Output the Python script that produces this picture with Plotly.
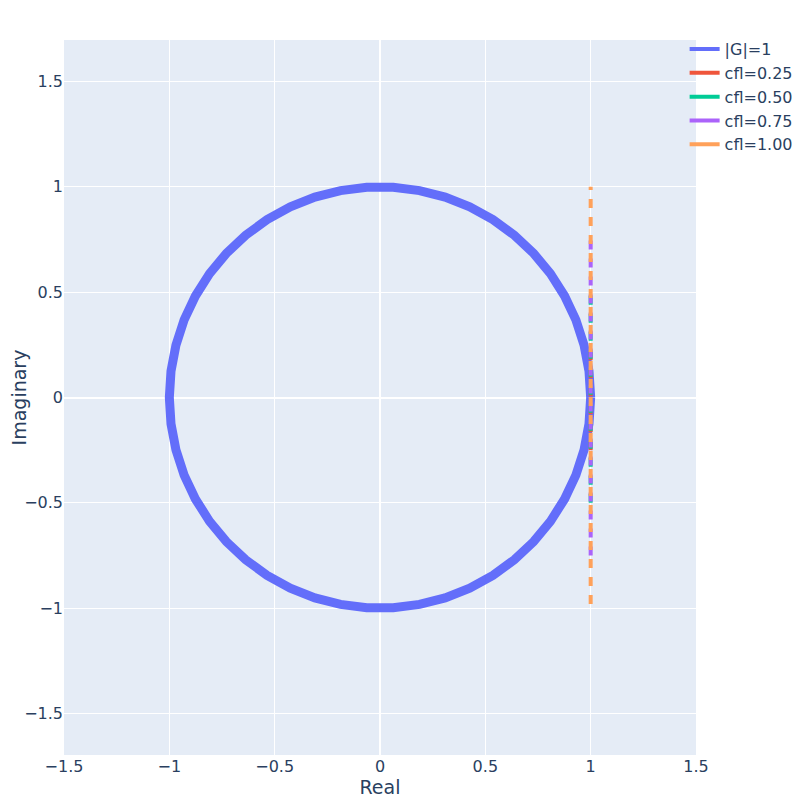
import plotly.graph_objects as go

# Unit circle |G|=1 (points read along the drawn polygon)
circle_re = [1.0000, 0.9921, 0.9686, 0.9298, 0.8763, 0.8090, 0.7290, 0.6374, 0.5358, 0.4258,
             0.3090, 0.1874, 0.0628, -0.0628, -0.1874, -0.3090, -0.4258, -0.5358, -0.6374, -0.7290,
             -0.8090, -0.8763, -0.9298, -0.9686, -0.9921, -1.0000, -0.9921, -0.9686, -0.9298, -0.8763,
             -0.8090, -0.7290, -0.6374, -0.5358, -0.4258, -0.3090, -0.1874, -0.0628, 0.0628, 0.1874,
             0.3090, 0.4258, 0.5358, 0.6374, 0.7290, 0.8090, 0.8763, 0.9298, 0.9686, 0.9921, 1.0000]
circle_im = [0.0000, 0.1253, 0.2487, 0.3681, 0.4818, 0.5878, 0.6845, 0.7705, 0.8443, 0.9048,
             0.9511, 0.9823, 0.9980, 0.9980, 0.9823, 0.9511, 0.9048, 0.8443, 0.7705, 0.6845,
             0.5878, 0.4818, 0.3681, 0.2487, 0.1253, 0.0000, -0.1253, -0.2487, -0.3681, -0.4818,
             -0.5878, -0.6845, -0.7705, -0.8443, -0.9048, -0.9511, -0.9823, -0.9980, -0.9980, -0.9823,
             -0.9511, -0.9048, -0.8443, -0.7705, -0.6845, -0.5878, -0.4818, -0.3681, -0.2487, -0.1253, 0.0000]

# Amplification factor loci for each CFL number (Re = 1)
cfl_labels = ["cfl=0.25", "cfl=0.50", "cfl=0.75", "cfl=1.00"]
cfl_re = [1.0, 1.0]
cfl_im = [
    [-0.25, 0.25],
    [-0.50, 0.50],
    [-0.75, 0.75],
    [-0.98, 1.00],
]
cfl_colors = ["#EF553B", "#00cc96", "#ab63fa", "#FFA15A"]
circle_label = "|G|=1"
circle_color = "#636efa"

fig = go.Figure()
fig.add_trace(go.Scatter(x=circle_re, y=circle_im, mode="lines", name=circle_label,
                         showlegend=False, line=dict(color=circle_color, width=9)))
for lab, im, col in zip(cfl_labels, cfl_im, cfl_colors):
    fig.add_trace(go.Scatter(x=cfl_re, y=im, mode="lines", name=lab, showlegend=False,
                             line=dict(color=col, width=4, dash="9px,9px")))

# legend entries (solid, thin swatches as in the reference)
for lab, col in zip([circle_label] + cfl_labels, [circle_color] + cfl_colors):
    fig.add_trace(go.Scatter(x=[None], y=[None], mode="lines", name=lab,
                             line=dict(color=col, width=4), hoverinfo="skip"))

fig.update_layout(
    width=800, height=800,
    template="plotly",
    font=dict(size=16, family="DejaVu Sans"),
    margin=dict(l=56, r=112, t=32, b=53, autoexpand=False),
    legend=dict(x=0.982, y=1.011, xanchor="left", font=dict(size=16),
                bgcolor="rgba(0,0,0,0)", traceorder="normal"),
    xaxis=dict(title=dict(text="Real", standoff=2), range=[-1.5, 1.5], automargin=False),
    yaxis=dict(title=dict(text="Imaginary", standoff=11), range=[-1.5, 1.5], scaleanchor="x",
               scaleratio=1, automargin=False),
)
fig.write_html("out.html")
